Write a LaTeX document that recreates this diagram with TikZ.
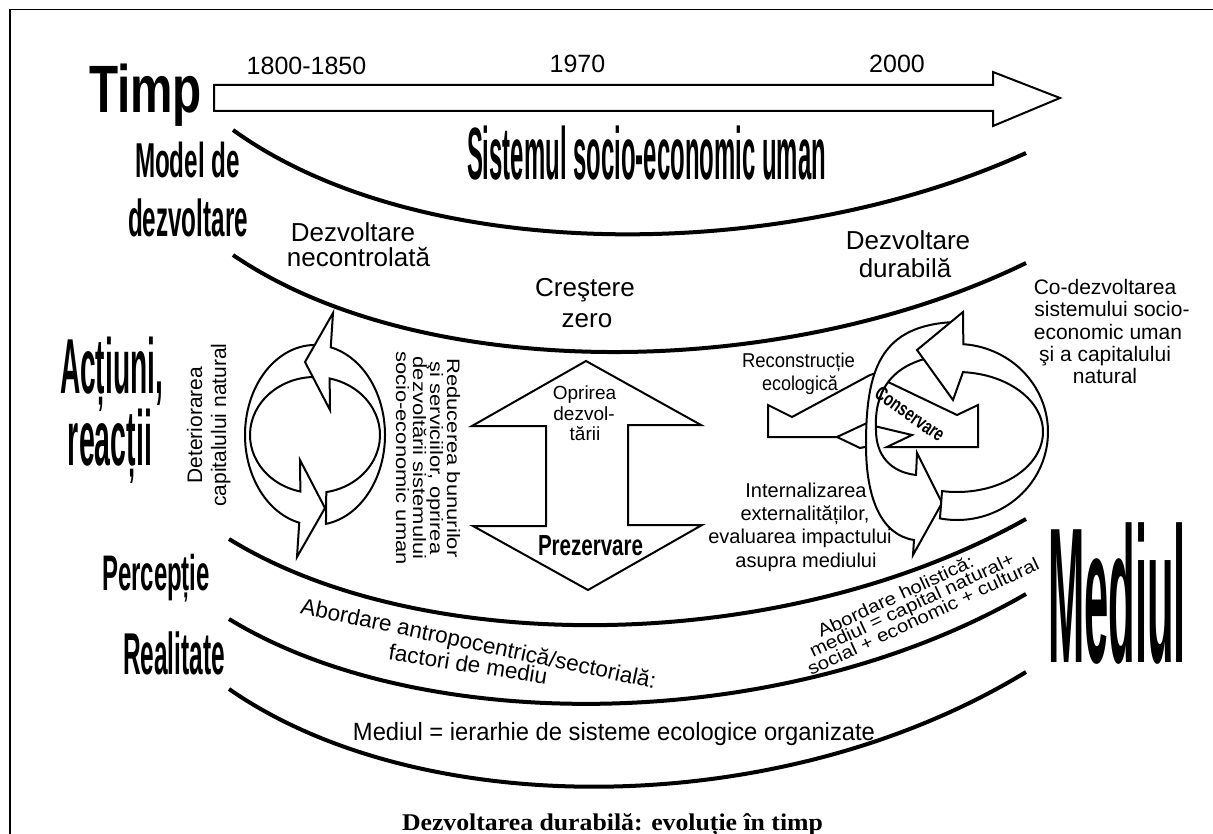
\documentclass[tikz,border=0pt]{standalone}
\usepackage{fontspec}
\setmainfont{Liberation Sans}
\newfontfamily\capfont{Liberation Serif}
\usepackage{graphicx}
\usetikzlibrary{calc}

\newcommand{\fsz}[1]{\fontsize{#1}{#1}\selectfont}
\newcommand{\fitw}[2]{\resizebox{#1}{\height}{#2}}

\tikzset{
  band/.style={line width=4pt},
  outl/.style={draw,line width=2pt,fill=white,line join=miter},
  lbl/.style={inner sep=0pt,anchor=base},
  big/.style={lbl,font=\fsz{#1}\bfseries},
  txt/.style={lbl,font=\fsz{#1}},
}

\begin{document}
\begin{tikzpicture}[x=1pt,y=-1pt]
\useasboundingbox (0,0) rectangle (1213,834);

% frame
\draw[line width=1.5pt] (10,834) -- (10,9.5) -- (1213,9.5);

% time axis
\draw[outl] (214,85) -- (993,85) -- (993,72) -- (1060,98) -- (993,126) -- (993,111) -- (214,111) -- cycle;
\node[big=67] (timp) at (145.5,113) {\fitw{113pt}{Timp}};
\node[txt=25] (y1800) at (306.5,75) {1800-1850};
\node[txt=25] (y1970) at (577.5,73) {1970};
\node[txt=25] (y2000) at (897,73) {2000};

% bands
\draw[band] (233,130) .. controls (420,265) and (780,265) .. (1026,153);
\draw[band] (233,255) .. controls (420,383) and (780,383) .. (1026,263);
\draw[band] (229,539) .. controls (420,657) and (780,657) .. (1026,519);
\draw[band] (229,619) .. controls (420,736) and (780,736) .. (1026,594);
\draw[band] (229,689) .. controls (420,822) and (780,822) .. (1026,672);

% left labels
\node[big=74] (sistem) at (646.5,180) {\fitw{359pt}{Sistemul socio-economic uman}};
\node[big=49] (model) at (187.5,178) {\fitw{105pt}{Model de}};
\node[big=52] (dezv) at (188,237) {\fitw{120pt}{dezvoltare}};
\node[big=78] (actiuni) at (111.5,393) {\fitw{103pt}{Acțiuni,}};
\node[big=78] (reactii) at (110,465) {\fitw{84pt}{reacții}};
\node[big=50] (percep) at (156,590) {\fitw{108pt}{Percepție}};
\node[big=59] (realit) at (174,674) {\fitw{102pt}{Realitate}};
\node[big=193] (mediul) at (1117,662) {\fitw{138pt}{Mediul}};

% stages
\node[txt=26] (necon1) at (353,242) {Dezvoltare};
\node[txt=26] (necon2) at (358.5,267) {necontrolată};
\node[txt=26] (crest1) at (585,297) {Creştere};
\node[txt=26] (crest2) at (587,328) {zero};
\node[txt=26] (durab1) at (908,250) {Dezvoltare};
\node[txt=26] (durab2) at (905,278) {durabilă};
\node[txt=21] (codezv1) at (1105,295) {Co-dezvoltarea};
\node[txt=21] (codezv2) at (1112,317) {sistemului socio-};
\node[txt=21] (codezv3) at (1108,340) {economic uman};
\node[txt=21] (codezv4) at (1105,362) {şi a capitalului};
\node[txt=21] (codezv5) at (1105,383) {natural};

% left cycle
\begin{scope}[shift={(315,435)}]
  \draw[outl,rotate=180] (-100:70pt and 90pt) arc[start angle=-100,end angle=77,x radius=70pt,y radius=90pt]
    -- (18,-122) -- (-10,-73) -- (15,-25) -- (77:65pt and 58pt)
    arc[start angle=77,end angle=-100,x radius=65pt,y radius=58pt] -- cycle;
  \draw[outl] (-81:70pt and 90pt) arc[start angle=-81,end angle=77,x radius=70pt,y radius=90pt]
    -- (18,-122) -- (-10,-73) -- (15,-25) -- (77:65pt and 58pt)
    arc[start angle=77,end angle=-80,x radius=65pt,y radius=58pt] -- cycle;
\end{scope}
\node[txt=21,rotate=90] (deter1) at (202,425) {Deteriorarea};
\node[txt=21,rotate=90] (deter2) at (226,425) {capitalului natural};
\node[txt=18,rotate=-90] (reduc1) at (447,458) {\scalebox{1.22}[1]{Reducerea bunurilor}};
\node[txt=18,rotate=-90] (reduc2) at (430,458) {\scalebox{1.22}[1]{şi serviciilor, oprirea}};
\node[txt=18,rotate=-90] (reduc3) at (413,458) {\scalebox{1.22}[1]{dezvoltării sistemului}};
\node[txt=18,rotate=-90] (reduc4) at (396,458) {\scalebox{1.22}[1]{socio-economic uman}};

% double arrow
\draw[outl] (586,361) -- (701,425) -- (628,425) -- (628,525) -- (702,525) -- (588,590)
  -- (473,526) -- (546,526) -- (546,426) -- (472,426) -- cycle;
\node[txt=19] (oprire1) at (584.5,399) {Oprirea};
\node[txt=19] (oprire2) at (584,420) {dezvol-};
\node[txt=19] (oprire3) at (585,440) {tării};
\node[big=29] (prezerv) at (590.5,555) {\fitw{105pt}{Prezervare}};

% right cycle
\draw[outl] (768,405) -- (792,417) -- (870,375) -- (880,372) -- (872,428) -- (837,437) -- (768,437) -- cycle;
\draw[outl] (886,381) -- (957,415) -- (978,405) -- (978,447) -- (887,447) -- (912,435) -- (870,425) -- cycle;
\draw[outl] (867,423) -- (837,437) -- (860,448) -- (870,446) -- cycle;
\draw[outl] (955,322) .. controls (880,325) and (866,370) .. (866,445)
  .. controls (866,500) and (882,535) .. (914,540) -- (913,555) -- (942,503) -- (917,453) -- (916,475)
  .. controls (890,472) and (876,455) .. (876,430) .. controls (874,392) and (890,358) .. (955,354) -- cycle;
\begin{scope}[shift={(957,432)}]
  \draw[outl] (-100.8:91pt and 88pt) arc[start angle=-100.8,end angle=86,x radius=91pt,y radius=88pt]
    -- (6,-120) -- (-40,-82) -- (-4,-32) -- (86:86pt and 60pt)
    arc[start angle=86,end angle=-100,x radius=86pt,y radius=60pt] -- cycle;
\end{scope}
\node[big=20,rotate=-35,anchor=center] (conserv) at (910,414) {\fitw{80pt}{Conservare}};
\node[txt=20] (reconstr1) at (798.5,367) {\fitw{113pt}{Reconstrucție}};
\node[txt=20] (reconstr2) at (800,390) {\fitw{76pt}{ecologică}};
\node[txt=20] (intern1) at (806,497) {Internalizarea};
\node[txt=20] (intern2) at (805,520) {externalităților,};
\node[txt=20] (intern3) at (800,543) {evaluarea impactului};
\node[txt=20] (intern4) at (806,567) {asupra mediului};

% perception / reality
\node[txt=22.5,rotate=-12] (abord1) at (477,651) {Abordare antropocentrică/sectorială:};
\node[txt=22.5,rotate=-9] (abord2) at (467,672) {factori de mediu};
\node[txt=18,rotate=25,anchor=base west] (holist1) at (821,638) {\scalebox{1.14}[1]{Abordare holistică:}};
\node[txt=18,rotate=25,anchor=base west] (holist2) at (813,658) {\scalebox{1.14}[1]{mediul = capital natural+}};
\node[txt=18,rotate=25,anchor=base west] (holist3) at (811,676) {\scalebox{1.14}[1]{social + economic + cultural}};
\node[txt=25] (ierarhie) at (614,740) {\fitw{522pt}{Mediul = ierarhie de sisteme ecologice organizate}};

% caption
\node[lbl,font=\capfont\bfseries\fsz{24}] (caption) at (612.5,830) {\fitw{421pt}{Dezvoltarea durabilă: evoluție în timp}};
\end{tikzpicture}
\end{document}
